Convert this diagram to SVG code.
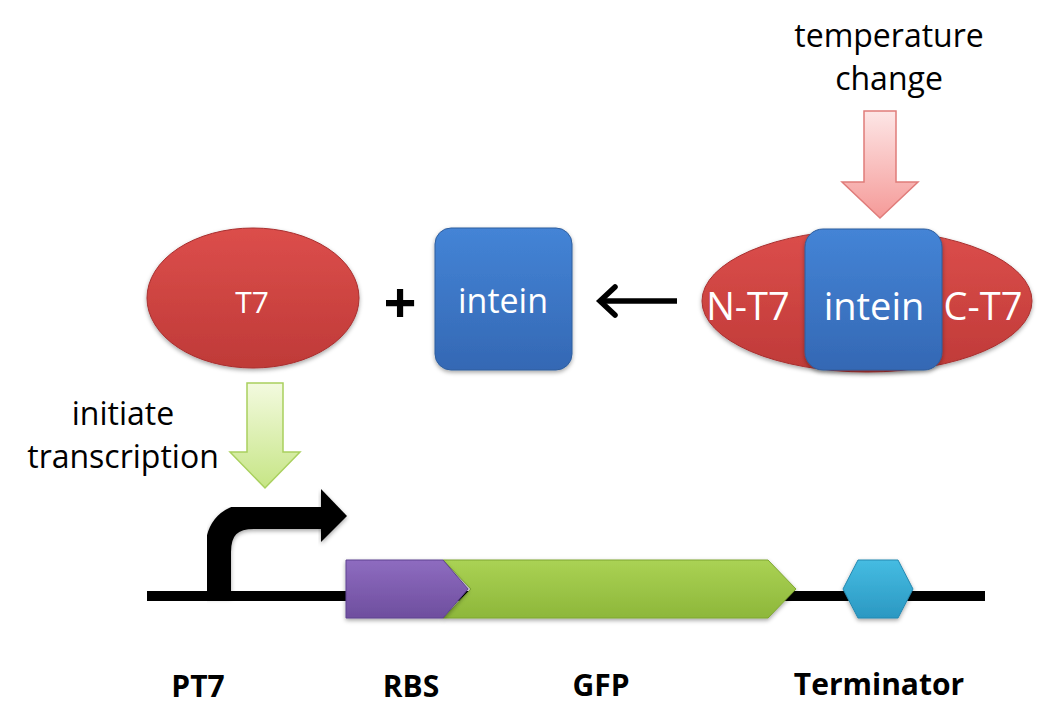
<svg xmlns="http://www.w3.org/2000/svg" width="1057" height="719" viewBox="0 0 1057 719">
  <defs>
    <linearGradient id="gRed" x1="0" y1="0" x2="0" y2="1">
      <stop offset="0" stop-color="#DC4E4B"/>
      <stop offset="1" stop-color="#BF3A38"/>
    </linearGradient>
    <linearGradient id="gBlue" x1="0" y1="0" x2="0" y2="1">
      <stop offset="0" stop-color="#4484D6"/>
      <stop offset="1" stop-color="#3468B4"/>
    </linearGradient>
    <linearGradient id="gPink" x1="0" y1="0" x2="0" y2="1">
      <stop offset="0" stop-color="#FDE6E6"/>
      <stop offset="1" stop-color="#F59A98"/>
    </linearGradient>
    <linearGradient id="gLime" x1="0" y1="0" x2="0" y2="1">
      <stop offset="0" stop-color="#F3FADF"/>
      <stop offset="1" stop-color="#C6E585"/>
    </linearGradient>
    <linearGradient id="gPurple" x1="0" y1="0" x2="0" y2="1">
      <stop offset="0" stop-color="#8E6CC0"/>
      <stop offset="1" stop-color="#6E4E9E"/>
    </linearGradient>
    <linearGradient id="gGfp" x1="0" y1="0" x2="0" y2="1">
      <stop offset="0" stop-color="#AAD254"/>
      <stop offset="1" stop-color="#8DB73A"/>
    </linearGradient>
    <linearGradient id="gCyan" x1="0" y1="0" x2="0" y2="1">
      <stop offset="0" stop-color="#45BCE2"/>
      <stop offset="1" stop-color="#2B98C2"/>
    </linearGradient>
    <filter id="sh" x="-10%" y="-10%" width="120%" height="130%">
      <feDropShadow dx="0" dy="2" stdDeviation="2" flood-color="#000" flood-opacity="0.35"/>
    </filter>
  </defs>
  <style>
    .lbl { font-family: "Open Sans", "Liberation Sans", sans-serif; font-size: 32px; fill: #000; text-anchor: middle; }
    .wt { font-family: "Open Sans", "Liberation Sans", sans-serif; fill: #fff; text-anchor: middle; }
    .bold { font-family: "Open Sans", "Liberation Sans", sans-serif; font-weight: 700; font-size: 30px; fill: #000; text-anchor: middle; }
    .red { fill: url(#gRed); stroke: #A83030; stroke-width: 1; filter: url(#sh); }
    .blue { fill: url(#gBlue); stroke: #2F5E9E; stroke-width: 1; filter: url(#sh); }
  </style>
  <rect width="1057" height="719" fill="#fff"/>

  <g id="temperature-label">
    <text class="lbl" x="889" y="47">temperature</text>
    <text class="lbl" x="889" y="90">change</text>
  </g>

  <g id="t7-intein-fusion">
    <ellipse class="red" cx="867" cy="301" rx="165" ry="71"/>
    <rect class="blue" x="805" y="229" width="137" height="141" rx="18"/>
    <text class="wt" x="748" y="320" font-size="38">N-T7</text>
    <text class="wt" x="874" y="320" font-size="38">intein</text>
    <text class="wt" x="983" y="320" font-size="38">C-T7</text>
  </g>

  <g id="t7">
    <ellipse class="red" cx="253" cy="298" rx="106" ry="70"/>
    <text class="wt" x="252" y="313" font-size="30">T7</text>
  </g>

  <g id="plus">
    <text x="400" y="323" font-family="Open Sans, Liberation Sans, sans-serif" font-weight="700" font-size="58" text-anchor="middle" fill="#000">+</text>
  </g>

  <g id="intein">
    <rect class="blue" x="435" y="228" width="137" height="142" rx="16"/>
    <text class="wt" x="503" y="313" font-size="34">intein</text>
  </g>

  <g id="initiate-label">
    <text class="lbl" x="123" y="425">initiate</text>
    <text class="lbl" x="123" y="468">transcription</text>
  </g>

  <g id="connectors">
    <polygon points="864,111 896,111 896,182 918,182 880,218 842,182 864,182" fill="url(#gPink)" stroke="#E07C7A" stroke-width="1.5"/>
    <line x1="677" y1="301" x2="602" y2="301" stroke="#000" stroke-width="5.5"/>
    <polyline points="615,287 600,301 615,315" fill="none" stroke="#000" stroke-width="5.5" stroke-linecap="round"/>
    <polygon points="247,383 283,383 283,452 300,452 265,488 230,452 247,452" fill="url(#gLime)" stroke="#A9D05E" stroke-width="1.5"/>
  </g>

  <g id="dna-backbone">
    <line x1="147" y1="596" x2="985" y2="596" stroke="#000" stroke-width="10"/>
  </g>

  <g id="promoter">
    <path d="M218,597 V552 Q218,516 254,516 H324" fill="none" stroke="#000" stroke-width="26" filter="url(#sh)"/>
    <polygon points="321,489 347,516 321,542" fill="#000" filter="url(#sh)"/>
  </g>

  <g id="gfp">
    <polygon points="443,560 768,560 796,589 768,618 443,618 471,589" fill="url(#gGfp)" stroke="#7EA632" stroke-width="1" filter="url(#sh)"/>
  </g>

  <g id="rbs">
    <polygon points="346,560 443,560 468,589 443,618 346,618" fill="url(#gPurple)" stroke="#5E4290" stroke-width="1" filter="url(#sh)"/>
  </g>

  <g id="terminator">
    <polygon points="858,560 898,560 913,589 898,618 858,618 843,589" fill="url(#gCyan)" stroke="#2588B0" stroke-width="1" filter="url(#sh)"/>
  </g>

  <g id="part-labels">
    <text class="bold" x="198" y="697">PT7</text>
    <text class="bold" x="411" y="697">RBS</text>
    <text class="bold" x="601" y="696">GFP</text>
    <text class="bold" x="879" y="695">Terminator</text>
  </g>
</svg>
